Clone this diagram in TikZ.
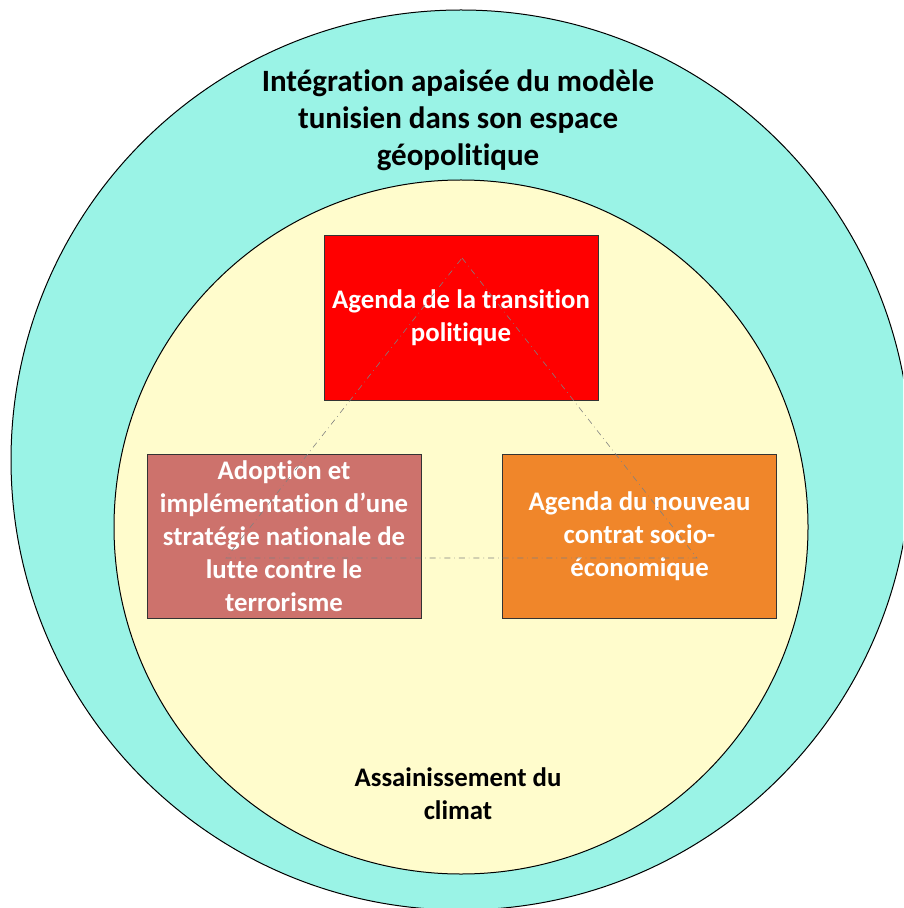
\documentclass[tikz,border=0pt]{standalone}
\usepackage{fontspec}
\setmainfont{Carlito}[Ligatures=NoCommon]
\usepackage{tikz}
\usetikzlibrary{positioning}

\definecolor{turquoise}{RGB}{154,243,230}
\definecolor{paleyellow}{RGB}{255,252,204}
\definecolor{agendared}{RGB}{255,0,0}
\definecolor{agendabrown}{RGB}{205,114,108}
\definecolor{agendaorange}{RGB}{240,134,42}

\tikzset{
	ring/.style={draw=black,line width=0.5pt},
	agenda/.style={draw=black!80,line width=0.5pt,minimum width=137pt,minimum height=82pt,
		inner sep=2pt,align=center,text=white,font=\fontsize{13.4}{16.5}\selectfont\bfseries},
	legend/.style={align=center,text=black,font=\fontsize{13.4}{16.5}\selectfont\bfseries},
}

\begin{document}
\begin{tikzpicture}[x=0.5pt,y=-0.5pt]
	\useasboundingbox (0,0) rectangle (903,908);
	\clip (0,0) rectangle (903,908);
	% the two rings
	\draw[ring,fill=turquoise] (461,460) circle(450);
	\draw[ring,fill=paleyellow] (461,527) circle(347);
	\node[legend,font=\fontsize{15.5}{18.5}\selectfont\bfseries] (espace) at (458,120)
		{Intégration apaisée du modèle\\tunisien dans son espace\\géopolitique};
	\node[legend] (climat) at (458,794) {Assainissement du\\climat};
	% the three agendas
	\node[agenda,fill=agendared] (politique) at (461,318) {Agenda de la transition\\politique};
	\node[agenda,fill=agendabrown] (terrorisme) at (284,536)
		{Adoption et\\implémentation d’une\\stratégie nationale de\\lutte contre le\\terrorisme};
	\node[agenda,fill=agendaorange] (socio) at (639.5,536)
		{Agenda du nouveau\\contrat socio-\\économique};
	% dash-dotted triangle over the boxes
	\coordinate (apex) at (462,258);
	\coordinate (left) at (226,558);
	\coordinate (right) at (697,558);
	\draw[gray,line width=0.3pt,dash dot] (apex) -- (right) -- (left) -- cycle;
\end{tikzpicture}
\end{document}
